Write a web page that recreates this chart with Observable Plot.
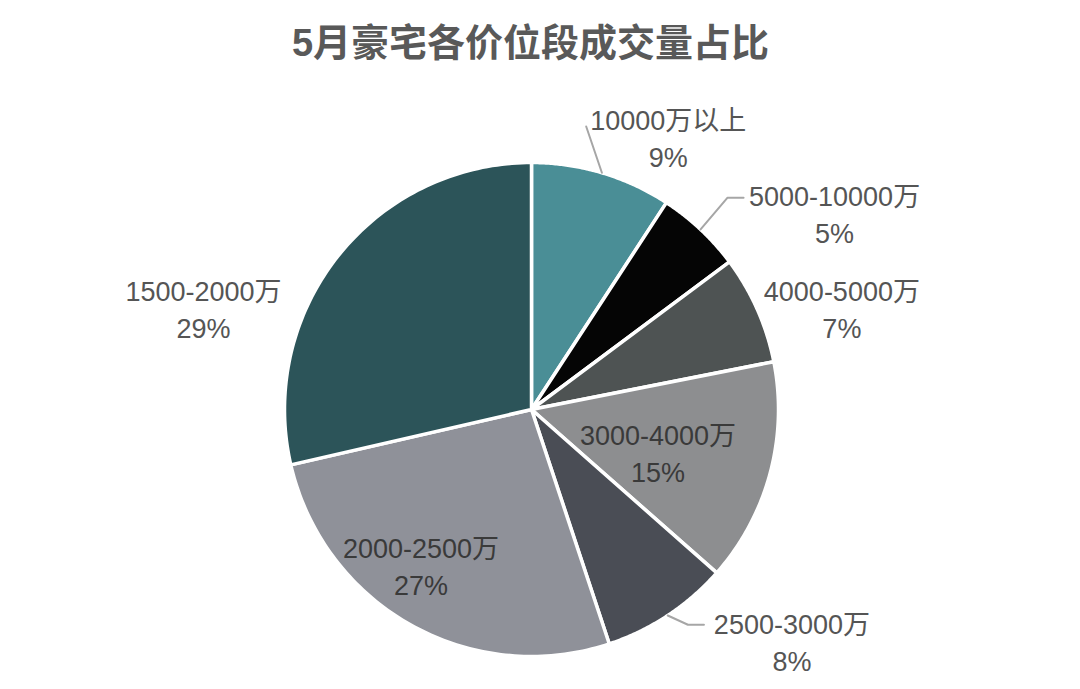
<!DOCTYPE html>
<html><head><meta charset="utf-8">
<script src="https://cdn.jsdelivr.net/npm/d3@7"></script>
<script src="https://cdn.jsdelivr.net/npm/@observablehq/plot@0.6"></script>
<style>body{margin:0;background:#fff;}</style>
</head><body><div id="chart"></div>
<script>
// ---- data ----
const title = "5月豪宅各价位段成交量占比";
const categories = ["10000万以上","5000-10000万","4000-5000万","3000-4000万","2500-3000万","2000-2500万","1500-2000万"];
const shares = [9.2, 5.6, 7.1, 14.6, 8.4, 26.5, 28.6];
const pctLabels = ["9%","5%","7%","15%","8%","27%","29%"];
const colors = ["#4a8e96","#050505","#4e5353","#8d8e90","#4a4d55","#8f9199","#2c5459"];

// ---- layout ----
const W = 1080, H = 689, CX = 531, CY = 409, R = 247;
const labelAngle  = [26.6, 57.0, 71.9, 108.4, 131.6, 215.5, 287.2];
const labelRadius = [1.236, 1.463, 1.322, 0.54, 1.41, 0.77, 1.39];
const labelInside = [false,false,false,true,false,true,false];
// leader line end offsets (px, relative to label centre) and horizontal elbow length
const leaders = [
  {i:0, end:[-82,-10], elbow:0},
  {i:1, end:[-91,-15], elbow:16},
  {i:4, end:[-88,-16], elbow:16}
];

const rad = Math.PI/180;
const arcs = d3.pie().sort(null).value(d => d)(shares);

const slicePts = [];
arcs.forEach((a, i) => {
  const n = 90;
  slicePts.push({cat: categories[i], x: 0, y: 0});
  for (let k = 0; k <= n; k++) {
    const t = a.startAngle + (a.endAngle - a.startAngle) * k / n;
    slicePts.push({cat: categories[i], x: Math.sin(t), y: Math.cos(t)});
  }
  slicePts.push({cat: categories[i], x: 0, y: 0});
});

const labels = categories.map((c, i) => ({
  cat: c, pct: pctLabels[i], inside: labelInside[i],
  x: labelRadius[i] * Math.sin(labelAngle[i] * rad),
  y: labelRadius[i] * Math.cos(labelAngle[i] * rad)
}));

const leaderPts = [];
leaders.forEach(L => {
  const a = arcs[L.i], mid = (a.startAngle + a.endAngle) / 2;
  const lb = labels[L.i];
  const ex = lb.x + L.end[0] / R, ey = lb.y - L.end[1] / R;
  leaderPts.push({k: L.i, x: Math.sin(mid) * 1.0, y: Math.cos(mid) * 1.0});
  if (L.elbow) leaderPts.push({k: L.i, x: ex - L.elbow / R, y: ey});
  leaderPts.push({k: L.i, x: ex, y: ey});
});

const font = '"Liberation Sans","Noto Sans CJK SC",Arial,sans-serif';

const chart = Plot.plot({
  width: W, height: H, margin: 0,
  x: {domain: [-CX / R, (W - CX) / R], axis: null},
  y: {domain: [-(H - CY) / R, CY / R], axis: null},
  color: {domain: categories, range: colors},
  style: {background: "white", fontFamily: font},
  marks: [
    Plot.line(slicePts, {x: "x", y: "y", z: "cat", fill: "cat", stroke: "white",
      strokeWidth: 3.5, strokeLinejoin: "round", curve: "linear"}),
    Plot.line(leaderPts, {x: "x", y: "y", z: "k", stroke: "#a6a6a6", strokeWidth: 2, curve: "linear"}),
    Plot.text(labels, {x: "x", y: "y", text: d => d.cat + "\n" + d.pct,
      fontSize: 27, lineHeight: 1.37, textAnchor: "middle",
      fill: d => d.inside ? "#3a3a3a" : "#555555"}),
    Plot.text([title], {frameAnchor: "top", dx: -10, dy: 29, fontSize: 38, fontWeight: "bold",
      fill: "#595959", lineAnchor: "top"})
  ]
});
document.getElementById("chart").appendChild(chart);
</script>
</body></html>
